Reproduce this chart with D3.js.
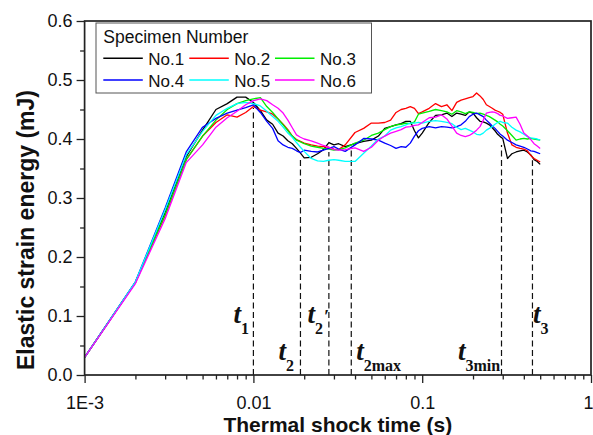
<!DOCTYPE html>
<html>
<head>
<meta charset="utf-8">
<script src="https://cdn.jsdelivr.net/npm/d3@7"></script>
<style>
  body { margin: 0; background: #fff; }
  svg { display: block; font-family: "Liberation Sans", Arial, sans-serif; }
</style>
</head>
<body>
<div id="chart"></div>
<script>
// thermal shock time (s)
const times = [0.001,0.002,0.003,0.004,0.005,0.006,0.007,0.008,0.009,0.010,
  0.011,0.012,0.013,0.014,0.015,0.016,0.017,0.018,0.019,0.020,
  0.022,0.024,0.026,0.028,0.030,0.032,0.035,
  0.040,0.045,0.050,0.055,0.060,0.065,0.070,0.075,0.080,0.085,0.090,0.095,0.100,
  0.11,0.12,0.13,0.14,0.15,0.16,0.17,0.18,0.19,0.20,
  0.21,0.22,0.23,0.24,0.25,0.26,0.27,0.28,0.29,0.30,
  0.32,0.34,0.36,0.38,0.40,0.42,0.44,0.46,0.48,0.50];

// elastic strain energy (mJ) per specimen
const no1 = [0.030,0.157,0.275,0.370,0.415,0.450,0.460,0.471,0.471,0.462,
  0.448,0.432,0.425,0.410,0.405,0.397,0.392,0.384,0.376,0.368,
  0.369,0.375,0.382,0.394,0.390,0.392,0.387,
  0.392,0.396,0.398,0.405,0.418,0.421,0.424,0.426,0.430,0.430,0.414,0.402,0.410,
  0.428,0.440,0.441,0.444,0.438,0.444,0.442,0.440,0.446,0.444,
  0.436,0.430,0.429,0.427,0.424,0.419,0.414,0.408,0.404,0.401,
  0.367,0.375,0.378,0.380,0.381,0.378,0.373,0.365,0.362,0.357];
const no2 = [0.030,0.157,0.270,0.365,0.405,0.428,0.441,0.437,0.445,0.455,
  0.449,0.446,0.442,0.434,0.425,0.416,0.405,0.399,0.396,0.393,
  0.390,0.388,0.387,0.386,0.383,0.382,0.390,
  0.411,0.418,0.427,0.427,0.428,0.432,0.445,0.450,0.452,0.455,0.452,0.443,0.446,
  0.452,0.460,0.455,0.458,0.448,0.462,0.466,0.468,0.470,0.472,
  0.478,0.473,0.467,0.458,0.455,0.452,0.449,0.447,0.445,0.442,
  0.410,0.390,0.386,0.384,0.383,0.380,0.372,0.367,0.364,0.361];
const no3 = [0.030,0.157,0.272,0.365,0.405,0.432,0.450,0.460,0.465,0.468,
  0.470,0.455,0.445,0.434,0.424,0.414,0.405,0.398,0.395,0.392,
  0.388,0.386,0.384,0.383,0.381,0.382,0.385,
  0.393,0.398,0.406,0.410,0.416,0.421,0.424,0.425,0.427,0.426,0.429,0.442,0.444,
  0.447,0.450,0.448,0.446,0.442,0.448,0.446,0.443,0.446,0.445,
  0.443,0.444,0.442,0.440,0.438,0.435,0.432,0.429,0.425,0.422,
  0.414,0.406,0.398,0.400,0.401,0.400,0.401,0.400,0.399,0.398];
const no4 = [0.030,0.158,0.283,0.378,0.420,0.435,0.444,0.449,0.453,0.458,
  0.445,0.430,0.418,0.397,0.390,0.386,0.384,0.380,0.377,0.381,
  0.379,0.378,0.381,0.384,0.387,0.383,0.379,
  0.390,0.401,0.400,0.398,0.393,0.389,0.384,0.387,0.386,0.393,0.405,0.414,0.418,
  0.421,0.419,0.421,0.420,0.419,0.421,0.424,0.430,0.438,0.442,
  0.444,0.441,0.438,0.432,0.427,0.422,0.418,0.413,0.408,0.405,
  0.398,0.394,0.390,0.388,0.386,0.383,0.380,0.379,0.377,0.375];
const no5 = [0.030,0.158,0.280,0.373,0.413,0.440,0.452,0.460,0.462,0.460,
  0.456,0.447,0.438,0.430,0.420,0.410,0.403,0.394,0.386,0.379,
  0.367,0.363,0.362,0.364,0.365,0.364,0.362,
  0.362,0.376,0.388,0.400,0.405,0.415,0.419,0.421,0.424,0.427,0.427,0.428,0.427,
  0.430,0.431,0.430,0.428,0.426,0.420,0.416,0.418,0.415,0.412,
  0.408,0.407,0.410,0.415,0.418,0.421,0.425,0.428,0.430,0.428,
  0.427,0.420,0.415,0.412,0.408,0.404,0.402,0.401,0.400,0.398];
const no6 = [0.030,0.155,0.265,0.360,0.390,0.420,0.436,0.447,0.458,0.465,
  0.468,0.465,0.458,0.452,0.444,0.432,0.419,0.407,0.403,0.400,
  0.397,0.393,0.389,0.386,0.382,0.381,0.382,
  0.385,0.379,0.386,0.398,0.405,0.410,0.413,0.416,0.420,0.421,0.423,0.424,0.428,
  0.436,0.437,0.441,0.434,0.422,0.410,0.406,0.404,0.406,0.410,
  0.415,0.421,0.432,0.444,0.445,0.446,0.445,0.443,0.440,0.439,
  0.435,0.436,0.437,0.425,0.410,0.405,0.399,0.392,0.388,0.384];

const seriesNames = ["No.1", "No.2", "No.3", "No.4", "No.5", "No.6"];
const seriesValues = [no1, no2, no3, no4, no5, no6];
const seriesColors = ["#000000", "#ff0000", "#00ee00", "#0000ff", "#00ffff", "#ff00ff"];

// characteristic times (dashed markers)
const markTimes = [0.01, 0.019, 0.028, 0.038, 0.295, 0.45];
const markTops = [0.4525, 0.369, 0.378, 0.381, 0.39, 0.364];
const markSubs = ["1", "2", "2", "2max", "3min", "3"];
const markPrime = [false, false, true, false, false, false];

// axis ticks
const xMajor = [0.001, 0.01, 0.1, 1];
const xMajorLabels = ["1E-3", "0.01", "0.1", "1"];
const yMajor = [0, 0.1, 0.2, 0.3, 0.4, 0.5, 0.6];
const yMinor = [0.05, 0.15, 0.25, 0.35, 0.45, 0.55];

// layout
const W = 593, H = 435;
const plotL = 84.6, plotR = 591, plotT = 21, plotB = 375;
// label offsets from marker line (px) and row (0 upper, 1 lower)
const markDx = [-20, -22, -21.5, 5, -43.5, 0.5];
const markRow = [0, 1, 0, 1, 1, 0];

const svg = d3.select("#chart").append("svg")
  .attr("width", W)
  .attr("height", H);

const x = d3.scaleLog().domain([0.001, 1]).range([plotL, plotR]);
const y = d3.scaleLinear().domain([0, 0.6]).range([plotB, plotT]);

// minor ticks on log axis: 2..9 in every decade
const xMinor = [];
[0.001, 0.01, 0.1].forEach(d => {
  for (let k = 2; k <= 9; k++) xMinor.push(d * k);
});

const axisColor = "#222";

// x axis
const gx = svg.append("g").attr("transform", `translate(0,${plotB})`);
gx.append("g")
  .call(d3.axisBottom(x).tickValues(xMinor).tickSize(4.5).tickFormat(""))
  .call(g => g.select(".domain").remove());
gx.append("g")
  .call(d3.axisBottom(x).tickValues(xMajor).tickSize(8).tickPadding(13)
    .tickFormat((d, i) => xMajorLabels[i]))
  .call(g => g.select(".domain").remove())
  .selectAll("text")
  .attr("font-size", 18)
  .attr("font-family", "Liberation Sans, Arial, sans-serif")
  .attr("fill", "#111")
  .attr("dx", (d, i) => i === xMajor.length - 1 ? -3 : 0);
gx.selectAll(".tick line").attr("stroke", axisColor).attr("stroke-width", 1.3);

// y axis
const gy = svg.append("g").attr("transform", `translate(${plotL},0)`);
gy.append("g")
  .call(d3.axisLeft(y).tickValues(yMinor).tickSize(4.5).tickFormat(""))
  .call(g => g.select(".domain").remove());
gy.append("g")
  .call(d3.axisLeft(y).tickValues(yMajor).tickSize(8).tickPadding(4)
    .tickFormat(d3.format(".1f")))
  .call(g => g.select(".domain").remove())
  .selectAll("text")
  .attr("font-size", 18)
  .attr("font-family", "Liberation Sans, Arial, sans-serif")
  .attr("fill", "#111");
gy.selectAll(".tick line").attr("stroke", axisColor).attr("stroke-width", 1.3);

// dashed marker lines
svg.append("g").selectAll("line")
  .data(markTimes)
  .join("line")
  .attr("x1", d => x(d))
  .attr("x2", d => x(d))
  .attr("y1", y(0))
  .attr("y2", (d, i) => y(markTops[i]))
  .attr("stroke", "#111")
  .attr("stroke-width", 1.2)
  .attr("stroke-dasharray", "6,3.5");

// curves
const line = d3.line()
  .x((d, i) => x(times[i]))
  .y(d => y(d));

svg.append("g").selectAll("path")
  .data(seriesValues)
  .join("path")
  .attr("d", d => line(d))
  .attr("fill", "none")
  .attr("stroke", (d, i) => seriesColors[i])
  .attr("stroke-width", 1.3)
  .attr("stroke-linejoin", "round");

// frame
svg.append("rect")
  .attr("x", plotL)
  .attr("y", plotT)
  .attr("width", plotR - plotL)
  .attr("height", plotB - plotT)
  .attr("fill", "none")
  .attr("stroke", axisColor)
  .attr("stroke-width", 1.7);

// t labels
const rowBase = [323, 360];
const labels = svg.append("g")
  .attr("font-family", "Liberation Serif, Times New Roman, serif")
  .attr("font-weight", "bold")
  .attr("fill", "#111");
markTimes.forEach((t, i) => {
  const txt = labels.append("text")
    .attr("x", x(t) + markDx[i])
    .attr("y", rowBase[markRow[i]]);
  txt.append("tspan")
    .attr("font-size", 27)
    .attr("font-style", "italic")
    .text("t");
  txt.append("tspan")
    .attr("font-size", 16)
    .attr("dy", 11)
    .text(markSubs[i]);
  if (markPrime[i]) {
    txt.append("tspan")
      .attr("font-size", 19)
      .attr("dx", 1)
      .attr("dy", -11)
      .text("\u2032");
  }
});

// legend
const leg = svg.append("g");
leg.append("rect")
  .attr("x", 96)
  .attr("y", 23)
  .attr("width", 275.5)
  .attr("height", 70)
  .attr("fill", "#fff")
  .attr("stroke", "#555")
  .attr("stroke-width", 1);
leg.append("text")
  .attr("x", 103.3)
  .attr("y", 43.3)
  .attr("font-size", 17.5)
  .attr("fill", "#111")
  .text("Specimen Number");

const colX = [103.3, 189.3, 275];
const rowY = [58.3, 80];
seriesNames.forEach((name, i) => {
  const cx = colX[i % 3], cy = rowY[Math.floor(i / 3)];
  leg.append("line")
    .attr("x1", cx)
    .attr("x2", cx + 39.5)
    .attr("y1", cy)
    .attr("y2", cy)
    .attr("stroke", seriesColors[i])
    .attr("stroke-width", 1.4);
  leg.append("text")
    .attr("x", cx + 45)
    .attr("y", cy + 6.6)
    .attr("font-size", 17)
    .attr("fill", "#111")
    .text(name);
});

// axis titles
svg.append("text")
  .attr("x", (plotL + plotR) / 2)
  .attr("y", 432)
  .attr("text-anchor", "middle")
  .attr("font-size", 21)
  .attr("font-weight", "bold")
  .attr("fill", "#111")
  .text("Thermal shock time (s)");

svg.append("text")
  .attr("transform", "translate(34,230) rotate(-90)")
  .attr("text-anchor", "middle")
  .attr("font-size", 23)
  .attr("font-weight", "bold")
  .attr("fill", "#111")
  .text("Elastic strain energy (mJ)");
</script>
</body>
</html>
